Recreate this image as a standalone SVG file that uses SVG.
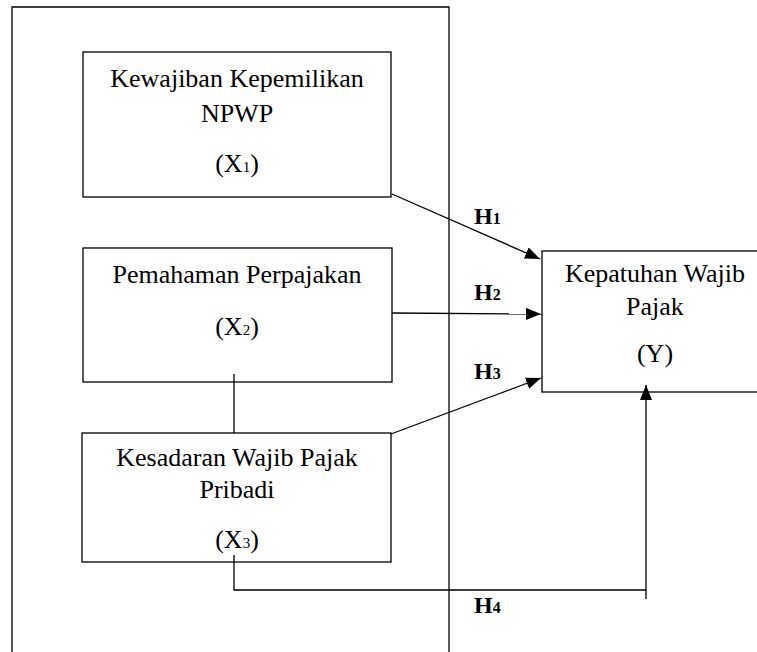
<svg xmlns="http://www.w3.org/2000/svg" width="757" height="652" viewBox="0 0 757 652">
<defs>
<style>
.box{fill:#fff;stroke:#000;stroke-width:1.3}
.t{font-family:"Liberation Serif","Times New Roman","DejaVu Serif",serif;font-size:26px;fill:#000;text-anchor:middle}
.sub{font-size:15px}
.h{font-family:"Liberation Serif","Times New Roman","DejaVu Serif",serif;font-size:24px;font-weight:bold;fill:#000}
.hs{font-size:16px}
.c{fill:none;stroke:#000;stroke-width:1.3}
</style>
<marker id="arr" markerUnits="userSpaceOnUse" markerWidth="16" markerHeight="12" viewBox="0 0 16 12" refX="15" refY="6" orient="auto">
<path d="M0,0 L15,6 L0,12 Z" fill="#000"/>
</marker>
</defs>
<rect width="757" height="652" fill="#fff"/>
<g id="frame"><path class="c" d="M12,660 V7 H449 V660"/></g>
<g id="x1">
<rect class="box" x="83" y="52" width="308" height="145"/>
<text class="t" x="237" y="87">Kewajiban Kepemilikan</text>
<text class="t" x="237" y="122">NPWP</text>
<text class="t" x="237" y="172">(X<tspan class="sub">1</tspan>)</text>
</g>
<g id="x2">
<rect class="box" x="83" y="248" width="309" height="134"/>
<text class="t" x="237" y="283">Pemahaman Perpajakan</text>
<text class="t" x="237" y="335">(X<tspan class="sub">2</tspan>)</text>
</g>
<g id="x3">
<rect class="box" x="82" y="433" width="309" height="129"/>
<text class="t" x="237" y="466">Kesadaran Wajib Pajak</text>
<text class="t" x="237" y="498">Pribadi</text>
<text class="t" x="237" y="548">(X<tspan class="sub">3</tspan>)</text>
</g>
<g id="y">
<rect class="box" x="542" y="251" width="230" height="141"/>
<text class="t" x="655" y="282">Kepatuhan Wajib</text>
<text class="t" x="655" y="315">Pajak</text>
<text class="t" x="655" y="362">(Y)</text>
</g>
<g id="connectors">
<line class="c" x1="392" y1="194" x2="540" y2="259" marker-end="url(#arr)"/>
<line class="c" x1="392" y1="313" x2="541" y2="314" marker-end="url(#arr)"/>
<line class="c" x1="391" y1="434" x2="541" y2="378" marker-end="url(#arr)"/>
<line class="c" x1="234" y1="374" x2="234" y2="433"/>
<path class="c" d="M234,555 V590 H646"/>
<line class="c" x1="646" y1="599" x2="646" y2="385" marker-end="url(#arr)"/>
</g>
<g id="labels">
<text class="h" x="474" y="224">H<tspan class="hs">1</tspan></text>
<text class="h" x="474" y="300">H<tspan class="hs">2</tspan></text>
<text class="h" x="474" y="379">H<tspan class="hs">3</tspan></text>
<text class="h" x="474" y="613">H<tspan class="hs">4</tspan></text>
</g>
</svg>
